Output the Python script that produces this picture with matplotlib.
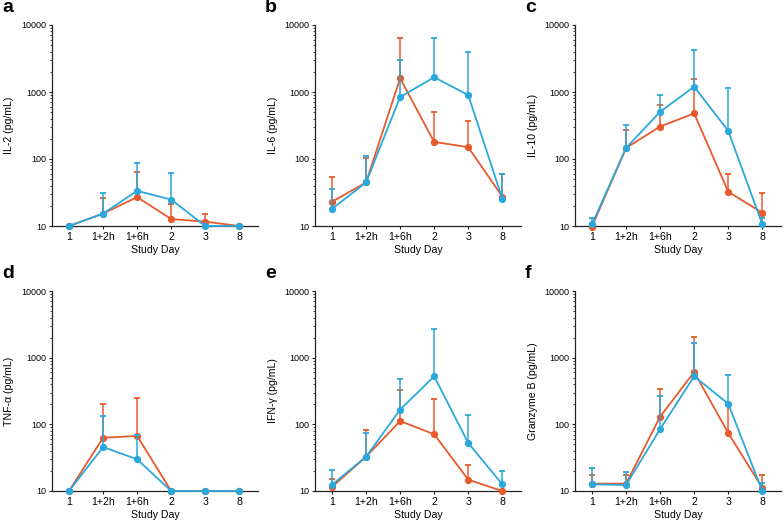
import numpy as np
import matplotlib
matplotlib.use("Agg")
import matplotlib.pyplot as plt
from matplotlib.ticker import LogLocator, NullFormatter, FixedFormatter, FixedLocator

plt.rcParams['font.family'] = ['Liberation Sans', 'DejaVu Sans']

days = ["1", "1+2h", "1+6h", "2", "3", "8"]
nan = np.nan

panel_letters = ["a", "b", "c", "d", "e", "f"]
ylabels = ["IL-2 (pg/mL)", "IL-6 (pg/mL)", "IL-10 (pg/mL)",
           "TNF-α (pg/mL)", "IFN-γ (pg/mL)", "Granzyme B (pg/mL)"]

# orange series: means and top of error bars
il2_orange = [10, 15.3, 27, 12.7, 11.6, 10]
il2_orange_top = [nan, 26.6, 65, 21, 15.3, nan]
il6_orange = [23, 44.7, 1600, 180, 150, 27.5]
il6_orange_top = [54, 105, 6300, 510, 363, 60]
il10_orange = [9.8, 146, 305, 479, 32.4, 15.8]
il10_orange_top = [nan, 269, 638, 1550, 59, 31]
tnf_orange = [10, 63, 67, 10, 10, 10]
tnf_orange_top = [nan, 205, 248, nan, nan, nan]
ifn_orange = [11.5, 32.7, 112, 71, 14.8, 10]
ifn_orange_top = [15.3, 83, 325, 240, 24.3, nan]
gzb_orange = [12.9, 12.9, 130, 610, 74, 11.2]
gzb_orange_top = [17.6, 17.6, 335, 2070, 210, 17.4]

# blue series: means and top of error bars
il2_blue = [10, 15.3, 33.5, 24.8, 10, 10]
il2_blue_top = [nan, 31.6, 88, 62, nan, nan]
il6_blue = [18, 44.7, 841, 1660, 900, 25.7]
il6_blue_top = [35.9, 111, 3020, 6300, 3980, 60]
il10_blue = [10.6, 146, 507, 1200, 263, 10.7]
il10_blue_top = [13.2, 320, 900, 4220, 1160, 13.2]
tnf_blue = [10, 45.7, 29.9, 10, 10, 10]
tnf_blue_top = [nan, 132, 68, nan, nan, nan]
ifn_blue = [12.4, 32.7, 166, 525, 52.5, 12.6]
ifn_blue_top = [21, 75, 484, 2690, 139, 20]
gzb_blue = [12.6, 12.3, 85, 525, 204, 10]
gzb_blue_top = [21.9, 19.3, 266, 1680, 550, 13.3]

orange_means = [il2_orange, il6_orange, il10_orange, tnf_orange, ifn_orange, gzb_orange]
orange_tops = [il2_orange_top, il6_orange_top, il10_orange_top, tnf_orange_top, ifn_orange_top, gzb_orange_top]
blue_means = [il2_blue, il6_blue, il10_blue, tnf_blue, ifn_blue, gzb_blue]
blue_tops = [il2_blue_top, il6_blue_top, il10_blue_top, tnf_blue_top, ifn_blue_top, gzb_blue_top]

ORANGE = "#E85A2C"
BLUE = "#2AA8DC"

fig = plt.figure(figsize=(7.84, 5.26), dpi=100)
W, H = 784.0, 526.0
lefts = [52, 315, 575]
rows = [(25, 226), (291, 491)]


def draw_series(ax, x, mean, top, color, z):
    mean = np.array(mean, dtype=float)
    top = np.array(top, dtype=float)
    ok = ~np.isnan(top)
    # upward-only error bars with a cap
    ax.vlines(x[ok], mean[ok], top[ok], color=color, lw=1.1, zorder=z, clip_on=False)
    ax.plot(x[ok], top[ok], ls="none", marker="_", ms=5, mew=1.3, color=color,
            zorder=z, clip_on=False)
    ax.plot(x, mean, color=color, lw=1.3, marker="o", ms=4.2, zorder=z + 0.5,
            clip_on=False)


x = np.arange(len(days))
for i in range(6):
    r, c = divmod(i, 3)
    top_px, bot_px = rows[r]
    ax = fig.add_axes([lefts[c] / W, 1 - bot_px / H, 206 / W, (bot_px - top_px) / H])
    draw_series(ax, x, orange_means[i], orange_tops[i], ORANGE, 3)
    draw_series(ax, x, blue_means[i], blue_tops[i], BLUE, 4)

    ax.set_yscale("log")
    ax.set_ylim(10, 10000)
    ax.set_xlim(-0.5, 5.55)
    ax.yaxis.set_major_locator(FixedLocator([10, 100, 1000, 10000]))
    ax.yaxis.set_major_formatter(FixedFormatter(["10", "100", "1000", "10000"]))
    ax.yaxis.set_minor_locator(LogLocator(base=10, subs=np.arange(2, 10)))
    ax.yaxis.set_minor_formatter(NullFormatter())
    ax.set_xticks(x)
    ax.set_xticklabels(days)

    for s in ["top", "right"]:
        ax.spines[s].set_visible(False)
    for s in ["left", "bottom"]:
        ax.spines[s].set_linewidth(0.9)
        ax.spines[s].set_color("#222222")
    ax.tick_params(axis="y", which="major", length=2.5, width=0.8, pad=1.5,
                   labelsize=6.5, colors="#222222", labelcolor="black")
    ax.tick_params(axis="y", which="minor", length=1.5, width=0.6, colors="#222222")
    ax.tick_params(axis="x", length=2.5, width=0.8, pad=2, labelsize=7.6,
                   colors="#222222", labelcolor="black")
    ax.set_xlabel("Study Day", fontsize=7.6, labelpad=2)
    ax.set_ylabel(ylabels[i], fontsize=7.6, labelpad=5)

    fig.text((lefts[c] - 50) / W, 1 - (top_px - 17) / H, panel_letters[i],
             fontsize=14, fontweight="bold", va="center", ha="left")

fig.savefig("out.png", dpi=100)
